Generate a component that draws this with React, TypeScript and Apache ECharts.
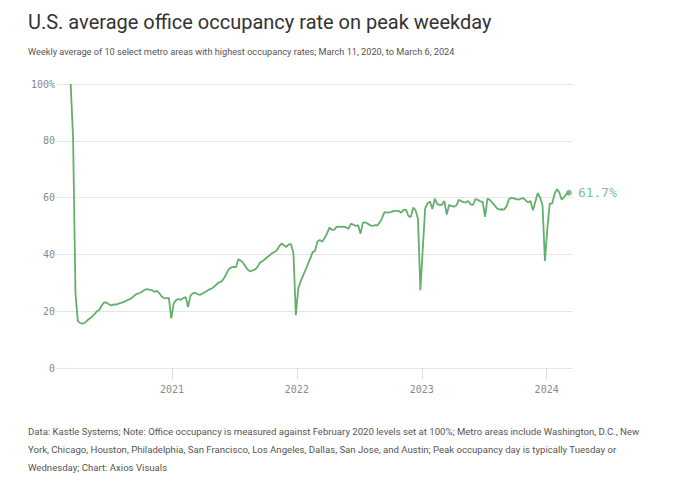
import React, { useEffect, useRef } from "react";
import * as echarts from "echarts";

const title = "U.S. average office occupancy rate on peak weekday";
const subtitle =
  "Weekly average of 10 select metro areas with highest occupancy rates; March 11, 2020, to March 6, 2024";
const footnoteLines = [
  "Data: Kastle Systems; Note: Office occupancy is measured against February 2020 levels set at 100%; Metro areas include Washington, D.C., New",
  "York, Chicago, Houston, Philadelphia, San Francisco, Los Angeles, Dallas, San Jose, and Austin; Peak occupancy day is typically Tuesday or",
  "Wednesday; Chart: Axios Visuals",
];

// first weekly reading: March 11, 2020; one value per week to March 6, 2024
const firstWeek = "2020-03-11";
const occupancy = [
  100, 81, 26, 16.5, 15.8, 15.6, 16.0, 16.8, 17.4, 18.2,
  19.0, 20.0, 20.5, 22.1, 23.1, 23.0, 22.4, 22.0, 22.4, 22.3,
  22.7, 22.9, 23.2, 23.6, 24.0, 24.4, 25.0, 25.8, 26.2, 26.5,
  27.0, 27.6, 27.8, 27.5, 27.4, 26.8, 27.2, 26.3, 25.2, 24.6,
  24.5, 24.7, 17.5, 22.7, 23.9, 24.3, 24.0, 24.6, 25.0, 21.5,
  25.5, 26.3, 26.5, 26.0, 25.7, 26.2, 26.7, 27.2, 27.7, 28.1,
  28.7, 29.5, 30.2, 30.5, 31.6, 33.2, 34.8, 35.4, 35.6, 35.5,
  38.3, 37.8, 37.0, 35.7, 34.6, 34.0, 34.4, 34.7, 35.6, 37.1,
  37.6, 38.2, 39.0, 39.6, 40.4, 40.8, 41.4, 42.8, 43.8, 43.2,
  42.6, 43.5, 43.6, 40.5, 18.6, 28.0, 30.5, 32.5, 34.5, 36.5,
  38.5, 40.8, 41.2, 44.5, 45.1, 44.4, 45.8, 47.3, 49.4, 48.7,
  48.6, 49.7, 49.8, 49.7, 49.8, 49.5, 49.0, 50.8, 50.5, 50.0,
  50.3, 47.3, 51.2, 51.3, 50.8, 50.3, 50.0, 50.3, 50.2, 51.2,
  52.8, 54.9, 54.7, 54.8, 55.0, 55.3, 55.3, 55.3, 54.7, 55.7,
  55.8, 53.5, 53.2, 56.5, 55.5, 52.5, 27.4, 42.0, 56.2, 58.0,
  58.6, 56.0, 59.6, 57.8, 57.4, 57.5, 58.8, 54.0, 57.5, 57.0,
  56.8, 57.2, 59.2, 58.8, 58.4, 58.3, 58.8, 57.6, 57.4, 59.5,
  59.2, 58.7, 58.5, 53.2, 59.6, 59.2, 58.2, 57.3, 56.2, 55.8,
  55.9, 55.8, 57.0, 59.5, 59.9, 59.7, 59.5, 59.3, 59.6, 59.8,
  59.0, 58.3, 58.8, 55.5, 58.5, 61.6, 60.0, 57.2, 37.7, 49.0,
  57.9, 57.9, 61.2, 63.0, 61.8, 59.3, 60.2, 61.3, 61.7,
];

const yTicks = [0, 20, 40, 60, 80, 100];
const xTickYears = [2021, 2022, 2023, 2024];
const axisStart = "2020-01-31";
const axisEnd = "2024-03-18";

const GREEN = "#63b06b";
const MONO = "'DejaVu Sans Mono', 'Liberation Mono', monospace";
const SANS = "Roboto, 'Noto Sans', sans-serif";

export default function App() {
  const ref = useRef<HTMLDivElement>(null);

  useEffect(() => {
    document.body.style.margin = "0";
    if (!ref.current) return;
    const chart = echarts.init(ref.current, null, { renderer: "svg" });

    const WEEK = 7 * 24 * 3600 * 1000;
    const t0 = new Date(firstWeek + "T00:00:00").getTime();
    const seriesData = occupancy.map((v, i) => [t0 + i * WEEK, v]);
    const last = seriesData[seriesData.length - 1];
    const yearTicks = xTickYears.map((y) => new Date(`${y}-01-01T00:00:00`).getTime());

    chart.setOption({
      animation: false,
      backgroundColor: "#ffffff",
      grid: { left: 57, right: 107, top: 84, bottom: 122, containLabel: false },
      xAxis: {
        type: "value",
        min: new Date(axisStart + "T00:00:00").getTime(),
        max: new Date(axisEnd + "T00:00:00").getTime(),
        axisLine: { show: false },
        splitLine: { show: false },
        axisTick: {
          show: true,
          customValues: yearTicks,
          length: 11,
          lineStyle: { color: "#dddddd", width: 1 },
        },
        axisLabel: {
          customValues: yearTicks,
          formatter: (val: number) => String(new Date(val).getFullYear()),
          fontFamily: MONO,
          fontSize: 10,
          color: "#8a8a8a",
          margin: 16,
        },
      },
      yAxis: {
        type: "value",
        min: 0,
        max: 100,
        interval: 20,
        axisLine: { show: false },
        axisTick: { show: false },
        splitLine: { lineStyle: { color: "#e6e6e6", width: 1 } },
        axisLabel: {
          formatter: (v: number) => (v === yTicks[yTicks.length - 1] ? `${v}%` : String(v)),
          fontFamily: MONO,
          fontSize: 10,
          color: "#8a8a8a",
          margin: 2,
        },
      },
      series: [
        {
          type: "line",
          data: seriesData,
          showSymbol: false,
          symbol: "none",
          lineStyle: { color: GREEN, width: 1.8 },
          itemStyle: { color: GREEN },
          silent: true,
        },
        {
          type: "scatter",
          data: [last],
          symbol: "circle",
          symbolSize: 6,
          itemStyle: { color: GREEN },
          label: {
            show: true,
            position: "right",
            distance: 6,
            formatter: (p: any) => `${p.value[1]}%`,
            fontFamily: MONO,
            fontSize: 13,
            color: GREEN,
          },
          silent: true,
        },
      ],
      graphic: [
        {
          type: "text",
          left: 28,
          top: 12,
          style: { text: title, fontFamily: SANS, fontSize: 20, fill: "#333333" },
        },
        {
          type: "text",
          left: 28,
          top: 47,
          style: { text: subtitle, fontFamily: SANS, fontSize: 9.2, fill: "#555555" },
        },
        ...footnoteLines.map((line, i) => ({
          type: "text",
          left: 28,
          top: 426 + i * 18,
          style: { text: line, fontFamily: SANS, fontSize: 9.6, fill: "#555555" },
        })),
      ],
    });

    return () => chart.dispose();
  }, []);

  return <div ref={ref} style={{ width: 680, height: 490 }} />;
}
